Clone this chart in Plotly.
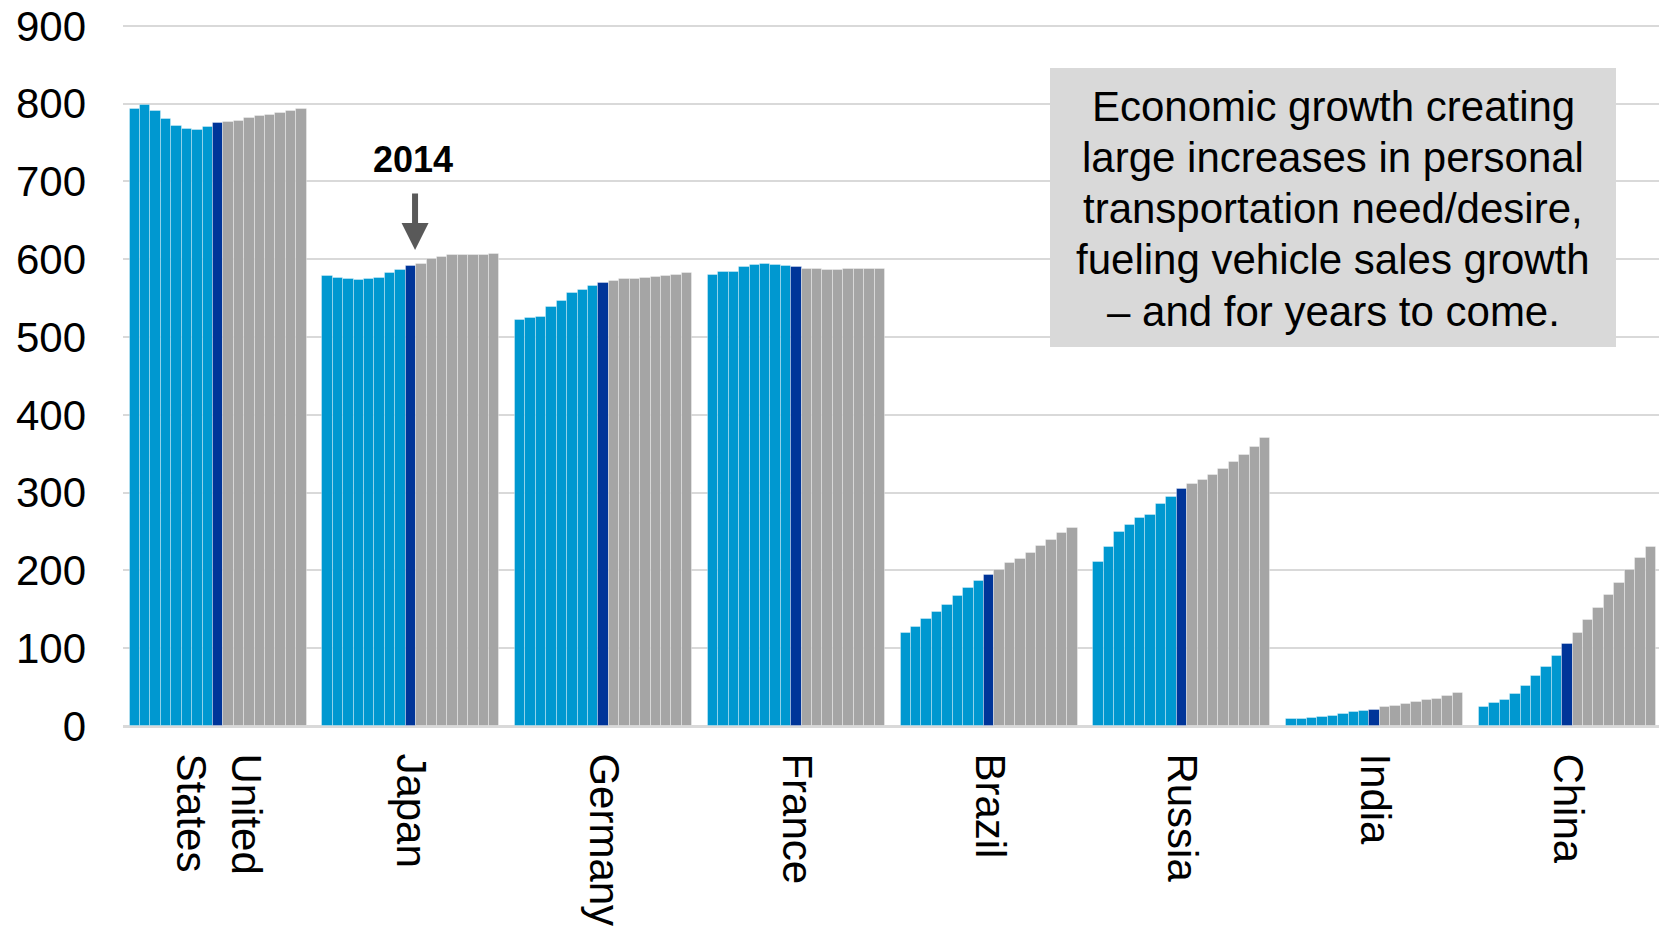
import plotly.graph_objects as go

# ---------------- data ----------------
YEARS = list(range(2006, 2023))
HIGHLIGHT_YEAR = 2014

COUNTRIES = ["United States", "Japan", "Germany", "France", "Brazil", "Russia", "India", "China"]
TICK_TEXT = ["United<br>States", "Japan", "Germany", "France", "Brazil", "Russia", "India", "China"]

united_states = [793, 798, 791, 780, 771, 767, 766, 770, 775, 776, 778, 781, 784, 786, 788, 791, 793]
japan = [578, 576, 575, 573, 575, 576, 582, 586, 591, 594, 600, 603, 605, 605, 606, 606, 607]
germany = [522, 524, 526, 539, 546, 556, 561, 566, 569, 572, 574, 575, 576, 577, 579, 580, 582]
france = [580, 583, 583, 590, 593, 594, 593, 591, 590, 588, 588, 586, 586, 588, 588, 588, 588]
brazil = [120, 127, 137, 146, 156, 167, 178, 187, 194, 201, 209, 215, 223, 231, 239, 248, 255]
russia = [211, 230, 250, 259, 268, 271, 285, 295, 305, 311, 316, 323, 331, 340, 349, 359, 370]
india = [9, 9, 10.5, 12, 13.5, 16, 18, 19.5, 21, 24, 25.5, 28, 30.5, 33, 35, 39, 43]
china = [25, 29, 33, 41, 52, 64, 76, 90, 105, 119, 136, 152, 168, 184, 200, 216, 230]

SERIES = [united_states, japan, germany, france, brazil, russia, india, china]

BOX_LINES = ["Economic growth creating", "large increases in personal",
             "transportation need/desire,", "fueling vehicle sales growth",
             "– and for years to come."]

# ---------------- styling ----------------
FONT = "Liberation Sans, Arial, sans-serif"
C_HIST = "#0098D0"
C_HL = "#003599"
C_FCST = "#A5A5A5"
GRID = "#D9D9D9"
GROUP_GAP = 1.5  # gap between country groups in bar widths

OFF = 8  # page body margin
W, H = 1667, 927
ML, MR, MT, MB = 123 - OFF, 11, 22 - OFF, 209
PW = W - ML - MR
PH = H - MT - MB


def py(pix):  # page pixel row -> paper y
    return 1 - (pix - OFF - MT) / PH


def px(pix):  # page pixel column -> paper x
    return (pix - OFF - ML) / PW


n = len(YEARS)
pitch = n + GROUP_GAP

seg = {"hist": ([], []), "hl": ([], []), "fcst": ([], [])}
for g, vals in enumerate(SERIES):
    for i, (yr, v) in enumerate(zip(YEARS, vals)):
        key = "hl" if yr == HIGHLIGHT_YEAR else ("hist" if yr < HIGHLIGHT_YEAR else "fcst")
        seg[key][0].append(g * pitch + i)
        seg[key][1].append(v)

fig = go.Figure()
for key, col in [("hist", C_HIST), ("hl", C_HL), ("fcst", C_FCST)]:
    xs, ys = seg[key]
    fig.add_trace(go.Bar(
        x=xs, y=ys, width=1, marker=dict(color=col, line=dict(color="rgba(255,255,255,0.35)", width=1)),
        showlegend=False, hoverinfo="x+y"))

hl_idx = YEARS.index(HIGHLIGHT_YEAR)
jp = COUNTRIES.index("Japan")
x_arrow = jp * pitch + hl_idx + 0.4

annotations = [
    dict(x=x_arrow, y=612, xref="x", yref="y", text="", showarrow=True,
         ax=0, ay=-58, arrowhead=2, arrowsize=0.9, arrowwidth=6, arrowcolor="#595959"),
    dict(x=x_arrow - 0.2, y=728, xref="x", yref="y", text="<b>2014</b>", showarrow=False,
         font=dict(size=36, family=FONT, color="black"), xanchor="center", yanchor="middle"),
]
BOX_L, BOX_R, BOX_T, BOX_B = 1050, 1616, 68, 347
box_cx = (BOX_L + BOX_R) / 2
for k, line in enumerate(BOX_LINES):
    annotations.append(dict(
        x=px(box_cx), y=py(106 + 51.3 * k), xref="paper", yref="paper", text=line,
        showarrow=False, xanchor="center", yanchor="middle",
        font=dict(size=42, family=FONT, color="black")))

fig.update_layout(
    width=W, height=H,
    margin=dict(l=ML, r=MR, t=MT, b=MB, autoexpand=False),
    plot_bgcolor="white", paper_bgcolor="white",
    barmode="overlay", bargap=0,
    font=dict(family=FONT, size=40, color="black"),
    xaxis=dict(
        range=[-1.13, (len(SERIES) - 1) * pitch + n - 1 + 0.5 + 0.77],
        tickvals=[g * pitch + (n - 1) / 2 for g in range(len(SERIES))],
        ticktext=TICK_TEXT, tickangle=90,
        tickfont=dict(size=42, family=FONT, color="black"),
        showgrid=False, zeroline=False,
        showline=True, linecolor=GRID, linewidth=2,
        ticks="", ticklabelstandoff=17, automargin=False,
        ticklabeloverflow="allow",
    ),
    yaxis=dict(
        range=[0, 905], dtick=100, tick0=0,
        showgrid=True, gridcolor=GRID, gridwidth=2,
        zeroline=True, zerolinecolor=GRID, zerolinewidth=2,
        tickfont=dict(size=42, family=FONT, color="black"),
        ticks="", ticklabelstandoff=36, automargin=False,
        ticklabeloverflow="allow",
    ),
    shapes=[dict(type="rect", xref="paper", yref="paper",
                 x0=px(BOX_L), x1=px(BOX_R), y0=py(BOX_B), y1=py(BOX_T),
                 fillcolor=GRID, line=dict(width=0), layer="above")],
    annotations=annotations,
)

fig.write_html("out.html")
